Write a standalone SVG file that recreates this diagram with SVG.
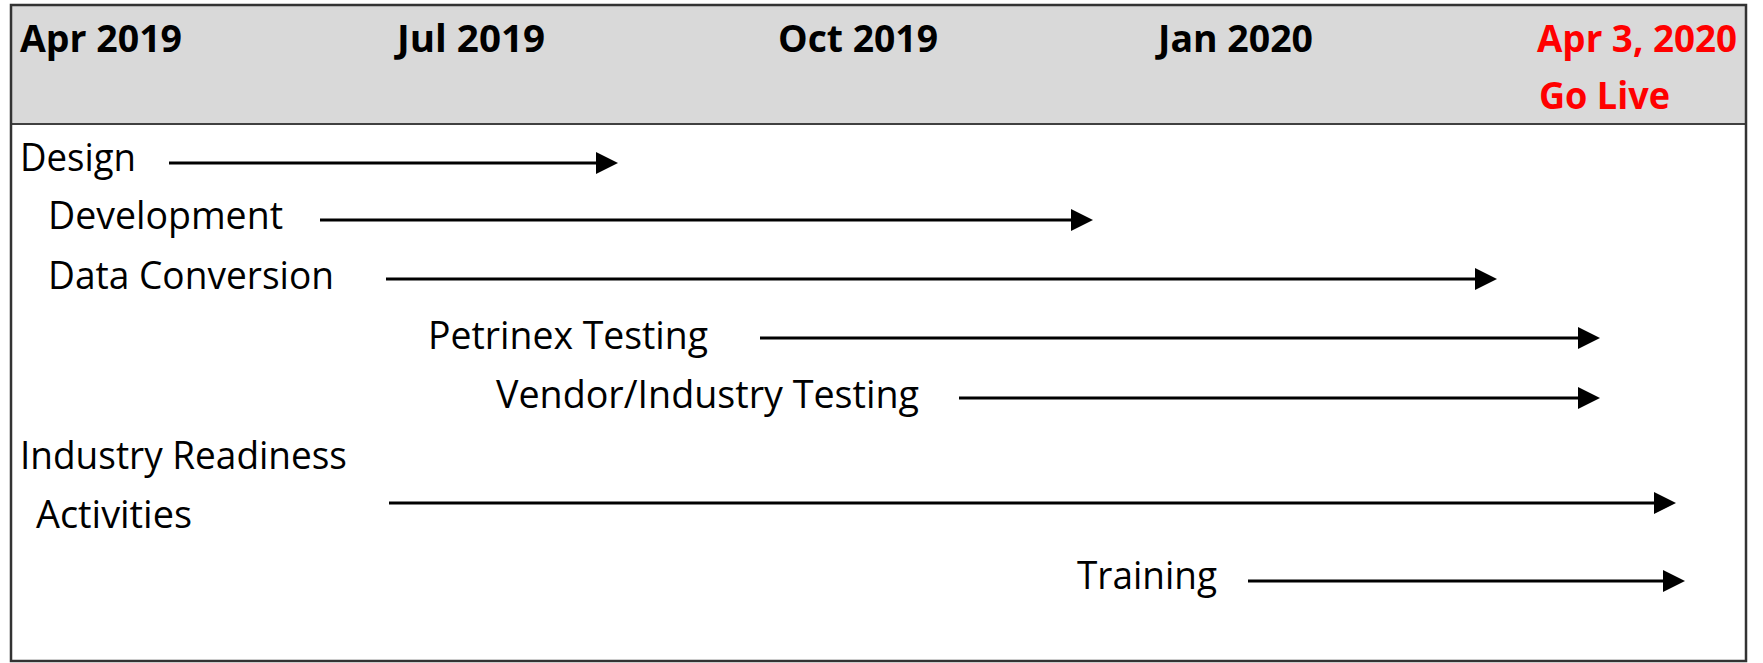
<svg xmlns="http://www.w3.org/2000/svg" width="1763" height="663" viewBox="0 0 1763 663">
<style>
.hd{font-family:"Open Sans","Liberation Sans",sans-serif;font-weight:bold;font-size:37px;fill:#000}
.red{fill:#ff0000}
.lb{font-family:"Open Sans","Liberation Sans",sans-serif;font-size:38px;fill:#000}
.ar{stroke:#000;stroke-width:3;fill:none}
</style>
<defs>
<marker id="ah" viewBox="0 0 22 22" refX="0" refY="11" markerUnits="userSpaceOnUse" markerWidth="22" markerHeight="22" orient="auto">
<path d="M0,0 L22,11 L0,22 z" fill="#000"/>
</marker>
</defs>
<rect x="0" y="0" width="1763" height="663" fill="#fff"/>
<g id="frame">
<rect x="11" y="5" width="1735" height="119" fill="#d9d9d9"/>
<line x1="11" y1="124" x2="1746" y2="124" stroke="#404040" stroke-width="2"/>
<rect x="11" y="5" width="1735" height="656" fill="none" stroke="#333" stroke-width="2.5"/>
</g>
<g id="timeline">
<text class="hd" x="20" y="52" textLength="162" lengthAdjust="spacingAndGlyphs">Apr 2019</text>
<text class="hd" x="397" y="52" textLength="148" lengthAdjust="spacingAndGlyphs">Jul 2019</text>
<text class="hd" x="778" y="52" textLength="160" lengthAdjust="spacingAndGlyphs">Oct 2019</text>
<text class="hd" x="1158" y="52" textLength="155" lengthAdjust="spacingAndGlyphs">Jan 2020</text>
<text class="hd red" x="1537" y="52" textLength="200" lengthAdjust="spacingAndGlyphs">Apr 3, 2020</text>
<text class="hd red" x="1539" y="109" textLength="131" lengthAdjust="spacingAndGlyphs">Go Live</text>
</g>
<g id="design"><text class="lb" x="20" y="171" textLength="116" lengthAdjust="spacingAndGlyphs">Design</text></g>
<g id="development"><text class="lb" x="48" y="229" textLength="235" lengthAdjust="spacingAndGlyphs">Development</text></g>
<g id="data-conversion"><text class="lb" x="48" y="289" textLength="286" lengthAdjust="spacingAndGlyphs">Data Conversion</text></g>
<g id="petrinex-testing"><text class="lb" x="428" y="349" textLength="280" lengthAdjust="spacingAndGlyphs">Petrinex Testing</text></g>
<g id="vendor-testing"><text class="lb" x="496" y="408" textLength="423" lengthAdjust="spacingAndGlyphs">Vendor/Industry Testing</text></g>
<g id="industry-readiness">
<text class="lb" x="20" y="469" textLength="327" lengthAdjust="spacingAndGlyphs">Industry Readiness</text>
<text class="lb" x="36" y="528" textLength="156" lengthAdjust="spacingAndGlyphs">Activities</text>
</g>
<g id="training"><text class="lb" x="1077" y="589" textLength="140" lengthAdjust="spacingAndGlyphs">Training</text></g>
<g id="connectors">
<line class="ar" x1="169" y1="163" x2="596" y2="163" marker-end="url(#ah)"/>
<line class="ar" x1="320" y1="220" x2="1071" y2="220" marker-end="url(#ah)"/>
<line class="ar" x1="386" y1="279" x2="1475" y2="279" marker-end="url(#ah)"/>
<line class="ar" x1="760" y1="338" x2="1578" y2="338" marker-end="url(#ah)"/>
<line class="ar" x1="959" y1="398" x2="1578" y2="398" marker-end="url(#ah)"/>
<line class="ar" x1="389" y1="503" x2="1654" y2="503" marker-end="url(#ah)"/>
<line class="ar" x1="1248" y1="581" x2="1663" y2="581" marker-end="url(#ah)"/>
</g>
</svg>
